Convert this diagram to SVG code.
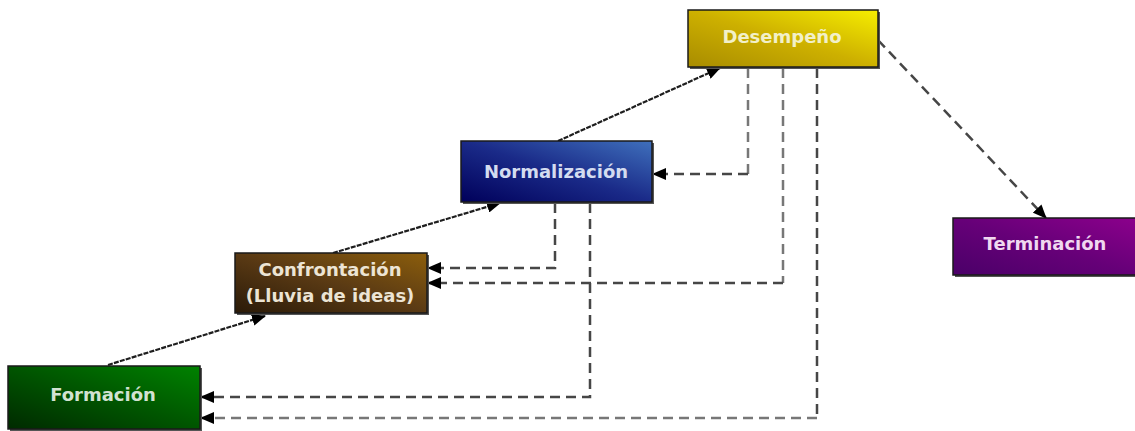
<svg xmlns="http://www.w3.org/2000/svg" width="1135" height="431" viewBox="0 0 1135 431">
  <style>
    .box { stroke: #1a1a1a; stroke-width: 1.5; }
    .shadow { fill: #555; }
    .label { font-family: "DejaVu Sans", Verdana, sans-serif; font-weight: bold; font-size: 18px; text-anchor: middle; }
    .flow { fill: none; stroke: #1e1e1e; stroke-width: 2.2; stroke-dasharray: 5 1.2; }
    .back { fill: none; stroke: #464646; stroke-width: 2.5; stroke-dasharray: 10 6; }
    .back-light { fill: none; stroke: #777; stroke-width: 2.5; stroke-dasharray: 10 6; }
  </style>
  <defs>
    <marker id="head" viewBox="0 0 14 12" refX="13" refY="6" markerWidth="14" markerHeight="12" markerUnits="userSpaceOnUse" orient="auto">
      <path d="M0,0 L14,6 L0,12 Z" fill="#000"/>
    </marker>
    <linearGradient id="gGold" x1="0" y1="1" x2="1" y2="0">
      <stop offset="0" stop-color="#a88c00"/>
      <stop offset="0.5" stop-color="#cdb000"/>
      <stop offset="1" stop-color="#f6ee00"/>
    </linearGradient>
    <linearGradient id="gBlue" x1="0" y1="1" x2="1" y2="0">
      <stop offset="0" stop-color="#00005a"/>
      <stop offset="0.5" stop-color="#1a2a88"/>
      <stop offset="1" stop-color="#3f70bc"/>
    </linearGradient>
    <linearGradient id="gBrown" x1="0" y1="1" x2="1" y2="0">
      <stop offset="0" stop-color="#2a1a08"/>
      <stop offset="0.5" stop-color="#5a3a14"/>
      <stop offset="1" stop-color="#8c5e0c"/>
    </linearGradient>
    <linearGradient id="gGreen" x1="0" y1="1" x2="1" y2="0">
      <stop offset="0" stop-color="#002a00"/>
      <stop offset="0.5" stop-color="#005500"/>
      <stop offset="1" stop-color="#008200"/>
    </linearGradient>
    <linearGradient id="gPurple" x1="0" y1="1" x2="1" y2="0">
      <stop offset="0" stop-color="#4a0068"/>
      <stop offset="0.5" stop-color="#660078"/>
      <stop offset="1" stop-color="#8c008c"/>
    </linearGradient>
  </defs>

  <!-- connectors -->
  <g id="connectors">
    <!-- forward progression between stages -->
    <path class="flow" d="M108,365 L265,316" marker-end="url(#head)"/>
    <path class="flow" d="M333,253 L500,203" marker-end="url(#head)"/>
    <path class="flow" d="M558,141 L720,68" marker-end="url(#head)"/>
    <path class="back" d="M878,40 L1046,218" marker-end="url(#head)"/>
    <!-- regressions from Desempeño -->
    <path class="back-light" d="M748,68 V174"/>
    <path class="back" d="M748,174 H653" marker-end="url(#head)"/>
    <path class="back-light" d="M783,68 V283"/>
    <path class="back" d="M783,283 H428" marker-end="url(#head)"/>
    <path class="back" d="M817,68 V418"/>
    <path class="back-light" d="M817,418 H201" marker-end="url(#head)"/>
    <!-- regressions from Normalización -->
    <path class="back" d="M555,203 V268 H428" marker-end="url(#head)"/>
    <path class="back" d="M590,203 V397 H201" marker-end="url(#head)"/>
  </g>

  <g id="desempeno">
    <rect class="shadow" x="690" y="12" width="190" height="57"/>
    <rect class="box" x="688" y="10" width="190" height="57" fill="url(#gGold)"/>
    <text class="label" x="782" y="43" fill="#f2f0c8">Desempeño</text>
  </g>

  <g id="normalizacion">
    <rect class="shadow" x="463" y="143" width="191" height="61"/>
    <rect class="box" x="461" y="141" width="191" height="61" fill="url(#gBlue)"/>
    <text class="label" x="556" y="178" fill="#d4dcf0">Normalización</text>
  </g>

  <g id="confrontacion">
    <rect class="shadow" x="237" y="255" width="192" height="60"/>
    <rect class="box" x="235" y="253" width="192" height="60" fill="url(#gBrown)"/>
    <text class="label" x="330" y="276" fill="#ece4d4">Confrontación</text>
    <text class="label" x="330" y="302" fill="#ece4d4">(Lluvia de ideas)</text>
  </g>

  <g id="formacion">
    <rect class="shadow" x="10" y="368" width="192" height="63"/>
    <rect class="box" x="8" y="366" width="192" height="63" fill="url(#gGreen)"/>
    <text class="label" x="103" y="401" fill="#d2e2d2">Formación</text>
  </g>

  <g id="terminacion">
    <rect class="shadow" x="955" y="220" width="182" height="57"/>
    <rect class="box" x="953" y="218" width="184" height="57" fill="url(#gPurple)"/>
    <text class="label" x="1045" y="250" fill="#f0d8f0">Terminación</text>
  </g>
</svg>
